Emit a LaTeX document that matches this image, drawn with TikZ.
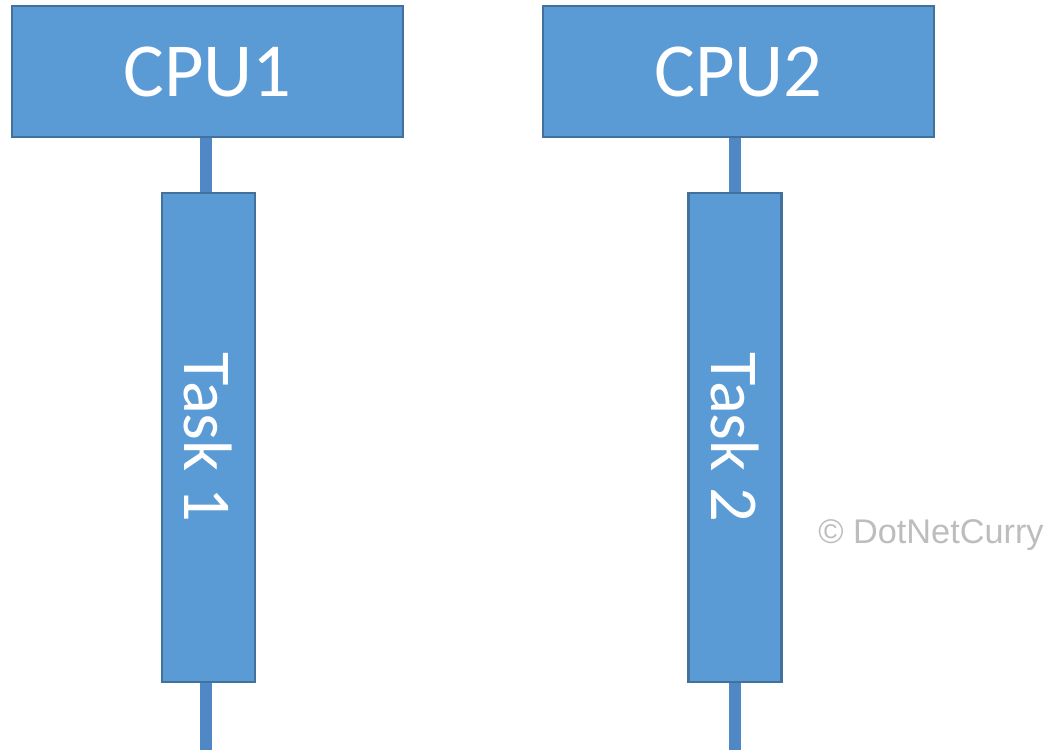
\documentclass[tikz,border=0pt]{standalone}
\usepackage{fontspec}
\setmainfont{Carlito}
\newfontfamily\markfont{Liberation Sans}
\usetikzlibrary{arrows,backgrounds}
\definecolor{boxfill}{HTML}{5B9BD5}
\definecolor{boxline}{HTML}{41719C}
\definecolor{wireblue}{HTML}{4F88C4}
\definecolor{markgray}{HTML}{BDBDBD}

\begin{document}
\begin{tikzpicture}[x=0.02cm, y=-0.02cm,
	unit/.style={draw=boxline, fill=boxfill, line width=1.2pt, text=white, inner sep=0pt, font=\fontsize{41}{48}\selectfont},
	wire/.style={draw=wireblue, line width=0.24cm}]
	\useasboundingbox (0,0) rectangle (1050,754);
	\node[unit, minimum width=7.82cm, minimum height=2.62cm, font=\fontsize{43.5}{50}\selectfont, name=cpu1] at (207.5, 71.5) {CPU1};
	\node[unit, minimum width=7.82cm, minimum height=2.62cm, font=\fontsize{43.5}{50}\selectfont, name=cpu2] at (738.5, 71.5) {CPU2};
	\node[unit, rotate=-90, minimum width=9.78cm, minimum height=1.86cm, font=\fontsize{39}{46}\selectfont, name=task1] at (208.5, 437.5) {Task 1};
	\node[unit, rotate=-90, minimum width=9.78cm, minimum height=1.86cm, font=\fontsize{39}{46}\selectfont, name=task2] at (735, 437.5) {Task 2};
	\coordinate (end1) at (206, 750);
	\coordinate (end2) at (735, 750);
	\begin{scope}[on background layer]
		\draw[wire] (cpu1.south -| end1) -- (task1.west -| end1);
		\draw[wire] (cpu2.south -| end2) -- (task2.west -| end2);
		\draw[wire] (task1.east -| end1) -- (end1);
		\draw[wire] (task2.east -| end2) -- (end2);
	\end{scope}
	\node[text=markgray, font=\markfont\fontsize{19.5}{23}\selectfont, name=mark] at (931, 535) {\textcopyright\ DotNetCurry};
\end{tikzpicture}
\end{document}
